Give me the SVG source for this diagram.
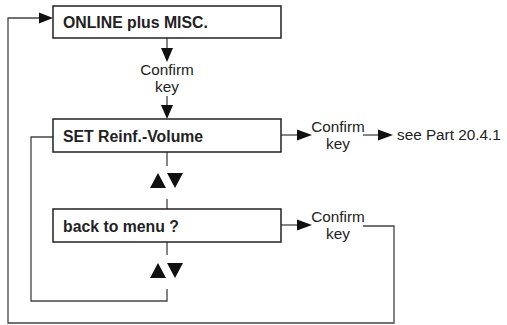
<svg xmlns="http://www.w3.org/2000/svg" width="507" height="325" viewBox="0 0 507 325">
<style>
.box{fill:#fff;stroke:#222;stroke-width:1.5}
.t{font-family:"Liberation Sans",Arial,sans-serif;font-weight:bold;font-size:15.8px;fill:#222}
.p{font-family:"Liberation Sans",Arial,sans-serif;font-size:15.3px;fill:#222}
.ln{fill:none;stroke:#444;stroke-width:1.3}
.ah{fill:#111}
</style>
<rect width="507" height="325" fill="#fff"/>
<g id="connectors">
  <polyline class="ln" points="363,226 394,226 394,323 8,323 8,18 40,18"/>
  <polygon class="ah" points="53,18 39,12.5 39,23.5"/>
  <polyline class="ln" points="53,137 31,137 31,301 167,301 167,289"/>
  <line class="ln" x1="167" y1="38" x2="167" y2="50"/>
  <polygon class="ah" points="167,62 161,48 173,48"/>
  <line class="ln" x1="167" y1="96" x2="167" y2="107"/>
  <polygon class="ah" points="167,119 161,105 173,105"/>
  <line class="ln" x1="167" y1="152" x2="167" y2="166"/>
  <line class="ln" x1="167" y1="199" x2="167" y2="209"/>
  <line class="ln" x1="167" y1="242" x2="167" y2="255"/>
  <polygon class="ah" points="158,173 150,188 166,188"/>
  <polygon class="ah" points="167,173 183,173 175,188"/>
  <polygon class="ah" points="158,263 150,278 166,278"/>
  <polygon class="ah" points="167,263 183,263 175,278"/>
  <line class="ln" x1="281" y1="135" x2="298" y2="135"/>
  <polygon class="ah" points="312,135 297,129.5 297,140.5"/>
  <line class="ln" x1="363" y1="135" x2="380" y2="135"/>
  <polygon class="ah" points="393,135 378,129.5 378,140.5"/>
  <line class="ln" x1="281" y1="225" x2="298" y2="225"/>
  <polygon class="ah" points="312,225 297,219.5 297,230.5"/>
</g>
<g id="confirm1">
  <text class="p" x="167" y="75" text-anchor="middle">Confirm</text>
  <text class="p" x="167" y="92" text-anchor="middle">key</text>
</g>
<g id="node-online">
  <rect class="box" x="53" y="6" width="228" height="32"/>
  <text class="t" x="63" y="28">ONLINE plus MISC.</text>
</g>
<g id="node-set">
  <rect class="box" x="53" y="119" width="228" height="33"/>
  <text class="t" x="63" y="142">SET Reinf.-Volume</text>
</g>
<g id="node-back">
  <rect class="box" x="53" y="209" width="228" height="33"/>
  <text class="t" x="63" y="232">back to menu ?</text>
</g>
<g id="confirm2">
  <text class="p" x="338" y="132" text-anchor="middle">Confirm</text>
  <text class="p" x="338" y="149" text-anchor="middle">key</text>
</g>
<g id="see-part">
  <text class="p" x="397" y="140">see Part 20.4.1</text>
</g>
<g id="confirm3">
  <text class="p" x="338" y="222" text-anchor="middle">Confirm</text>
  <text class="p" x="338" y="239" text-anchor="middle">key</text>
</g>
</svg>
